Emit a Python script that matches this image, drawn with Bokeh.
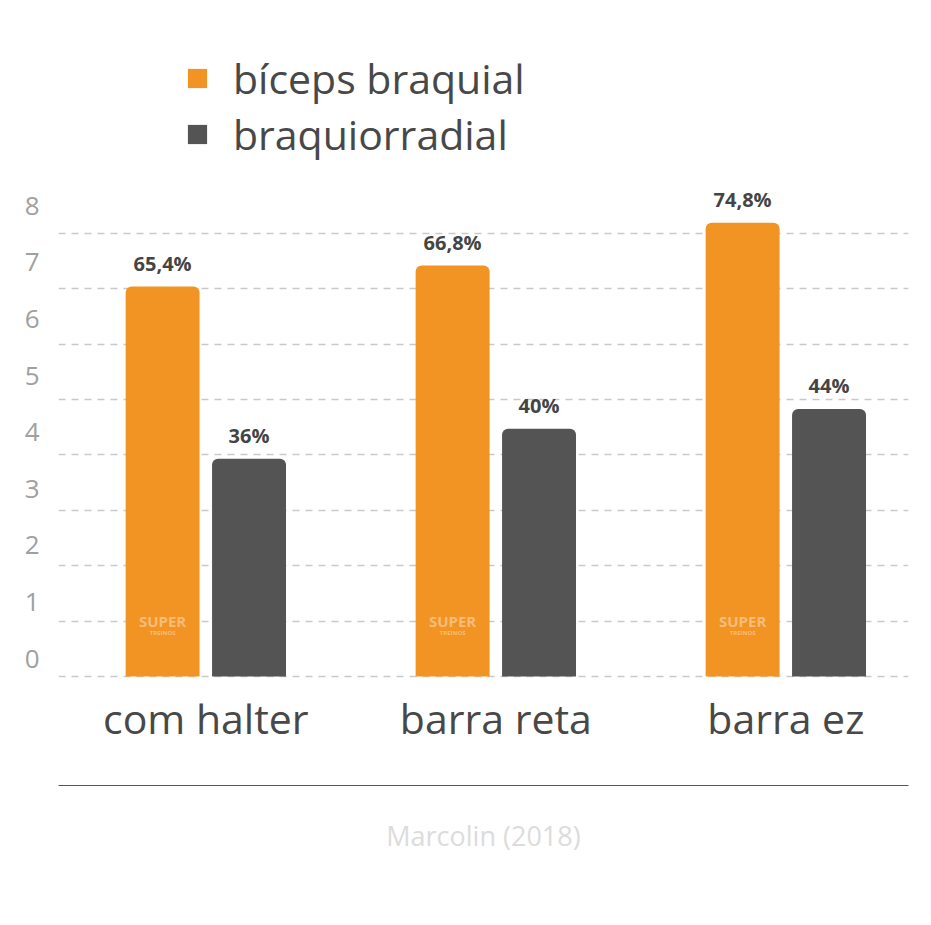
import numpy as np
from bokeh.plotting import figure
from bokeh.models import (ColumnDataSource, Range1d, LinearAxis, FixedTicker,
                          Legend, LegendItem)
from bokeh.core.properties import value
from bokeh.embed import file_html
from bokeh.resources import INLINE

# ---- data (bar heights) ----
categories = ["com halter", "barra reta", "barra ez"]
biceps_height = [7.04, 7.42, 8.19]
braquio_height = [3.93, 4.47, 4.83]
biceps_labels = ["65,4%", "66,8%", "74,8%"]
braquio_labels = ["36%", "40%", "44%"]
series_names = ["bíceps braquial", "braquiorradial"]
y_ticks = [0, 1, 2, 3, 4, 5, 6, 7, 8]
source_note = "Marcolin (2018)"

ORANGE = "#F29423"
DARK = "#545454"
TEXT = "#484848"
FONT = "Open Sans"

idx = np.arange(len(categories))
off = 0.149
bw = 0.255

src_b = ColumnDataSource(dict(x=idx - off, top=biceps_height, lab=biceps_labels))
src_r = ColumnDataSource(dict(x=idx + off, top=braquio_height, lab=braquio_labels))

p = figure(width=931, height=925, output_backend="svg", toolbar_location=None,
           x_range=Range1d(-0.508, 2.423), y_range=Range1d(-0.0361, 11.841),
           min_border_left=58, min_border_right=23, min_border_top=20,
           min_border_bottom=247)
p.outline_line_color = None
p.background_fill_color = "white"
p.border_fill_color = "white"

# grid
p.xgrid.visible = False
p.ygrid.ticker = FixedTicker(ticks=y_ticks)
p.ygrid.grid_line_color = "#c9c9c9"
p.ygrid.grid_line_dash = "7 6"
p.ygrid.grid_line_width = 1.5
p.yaxis.visible = False

# y labels on their own range (as in the reference, labels sit slightly above lines)
p.extra_y_ranges = {"lab": Range1d(-0.353, 11.272)}
yax = LinearAxis(y_range_name="lab", ticker=FixedTicker(ticks=y_ticks))
yax.axis_line_color = None
yax.major_tick_line_color = None
yax.minor_tick_line_color = None
yax.major_label_text_font = FONT
yax.major_label_text_font_size = "26px"
yax.major_label_text_color = "#a0a0a0"
yax.major_label_standoff = 13
p.add_layout(yax, "left")

# x axis with categories
xax = p.xaxis[0]
xax.ticker = FixedTicker(ticks=list(idx))
xax.major_label_overrides = {int(i): c for i, c in zip(idx, categories)}
xax.axis_line_color = None
xax.major_tick_line_color = None
xax.minor_tick_line_color = None
xax.major_tick_out = 0
xax.major_label_text_font = FONT
xax.major_label_text_font_size = "41px"
xax.major_label_text_color = TEXT
xax.major_label_standoff = 11
xax.axis_label = " "
xax.axis_label_text_font_size = "20px"
xax.axis_label_standoff = 12

# separator line + source note
sep = LinearAxis(ticker=FixedTicker(ticks=[]))
sep.axis_line_color = "#555555"
sep.axis_line_width = 1.2
sep.major_tick_line_color = None
sep.minor_tick_line_color = None
sep.major_label_text_font_size = "0px"
sep.axis_label = source_note
sep.axis_label_text_font = FONT
sep.axis_label_text_font_size = "27px"
sep.axis_label_text_font_style = "normal"
sep.axis_label_text_color = "#dcdcdc"
sep.axis_label_standoff = 31
p.add_layout(sep, "below")

# bars
rb = p.vbar(x="x", top="top", width=bw, bottom=0, source=src_b,
            fill_color=ORANGE, line_color=None, border_radius=(6, 6, 0, 0))
rr = p.vbar(x="x", top="top", width=bw, bottom=0, source=src_r,
            fill_color=DARK, line_color=None, border_radius=(6, 6, 0, 0))

# value labels
for s in (src_b, src_r):
    p.text(x="x", y="top", text="lab", source=s, y_offset=-23,
           text_align="center", text_baseline="alphabetic",
           text_font=value(FONT), text_font_size="20px",
           text_font_style="bold", text_color="#444444")

# watermark inside the orange bars
wm = ColumnDataSource(dict(x=idx - off, y=[0] * len(idx)))
p.text(x="x", y="y", text=value("SUPER"), source=wm, y_offset=-56,
       text_align="center", text_baseline="middle", text_font=value(FONT),
       text_font_size="15px", text_font_style="bold", text_color="#f7bd7a")
p.text(x="x", y="y", text=value("TREINOS"), source=wm, y_offset=-44,
       text_align="center", text_baseline="middle", text_font=value(FONT),
       text_font_size="6px", text_font_style="bold", text_color="#f7bd7a")

# legend
legend = Legend(items=[LegendItem(label=series_names[0], renderers=[rb]),
                       LegendItem(label=series_names[1], renderers=[rr])],
                location=(127, 516))
legend.label_text_font = FONT
legend.label_text_font_size = "41px"
legend.label_text_color = TEXT
legend.glyph_width = 24
legend.glyph_height = 24
legend.label_standoff = 24
legend.spacing = 0
legend.padding = 0
legend.margin = 0
legend.border_line_color = None
legend.background_fill_alpha = 0
p.add_layout(legend)

open("out.html", "w").write(file_html(p, INLINE))
